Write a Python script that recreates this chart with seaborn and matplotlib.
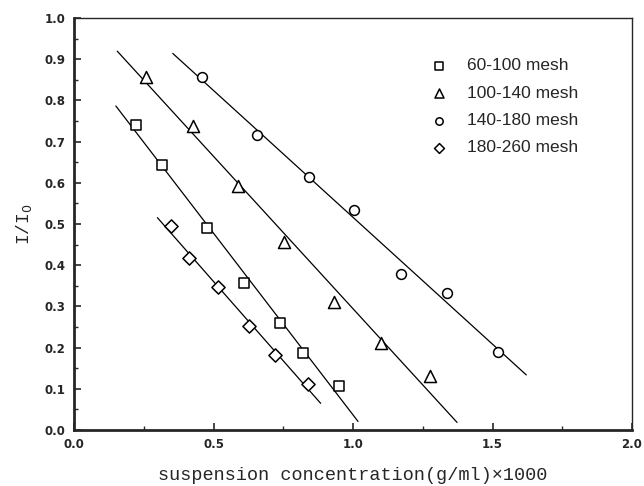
import numpy as np
import pandas as pd
import matplotlib
matplotlib.use('Agg')
import matplotlib.pyplot as plt
import seaborn as sns
from matplotlib.ticker import MultipleLocator

# values
mesh_labels = ['60-100 mesh', '100-140 mesh', '140-180 mesh', '180-260 mesh']
conc_60_100 = [0.222, 0.317, 0.478, 0.609, 0.737, 0.822, 0.950]
ratio_60_100 = [0.740, 0.642, 0.490, 0.358, 0.260, 0.186, 0.108]
conc_100_140 = [0.257, 0.425, 0.587, 0.754, 0.932, 1.100, 1.275]
ratio_100_140 = [0.857, 0.738, 0.593, 0.456, 0.310, 0.212, 0.130]
conc_140_180 = [0.459, 0.656, 0.841, 1.005, 1.172, 1.337, 1.519]
ratio_140_180 = [0.857, 0.715, 0.613, 0.533, 0.379, 0.333, 0.190]
conc_180_260 = [0.349, 0.411, 0.516, 0.628, 0.721, 0.840]
ratio_180_260 = [0.494, 0.418, 0.346, 0.252, 0.183, 0.112]
# x extent of each fitted line
fit_start = [0.150, 0.155, 0.354, 0.299]
fit_end = [1.018, 1.373, 1.621, 0.884]

concs = [conc_60_100, conc_100_140, conc_140_180, conc_180_260]
ratios = [ratio_60_100, ratio_100_140, ratio_140_180, ratio_180_260]

sns.set_style('ticks')
plt.rcParams['font.family'] = ['Liberation Sans', 'DejaVu Sans']
plt.rcParams['xtick.direction'] = 'in'
plt.rcParams['ytick.direction'] = 'in'

fig = plt.figure(figsize=(6.44, 4.86), dpi=100)
ax = fig.add_axes([0.1149, 0.1152, 0.8665, 0.8478])

markers = {'60-100 mesh': 's', '100-140 mesh': '^', '140-180 mesh': 'o', '180-260 mesh': 'D'}
sizes = {'60-100 mesh': 55, '100-140 mesh': 75, '140-180 mesh': 50, '180-260 mesh': 45}

# least squares line for each mesh fraction plus the open markers
for lab, xs, ys, x0, x1 in zip(mesh_labels, concs, ratios, fit_start, fit_end):
    k, b = np.polyfit(xs, ys, 1)
    fx = np.array([x0, x1])
    sns.lineplot(x=fx, y=k * fx + b, color='black', lw=0.9, ax=ax)
    sns.scatterplot(x=xs, y=ys, marker=markers[lab], s=sizes[lab], facecolor='white',
                    edgecolor='black', linewidth=1.1, ax=ax, label=lab, zorder=3)

ax.set_xlim(0, 2.0)
ax.set_ylim(0, 1.0)
ax.xaxis.set_major_locator(MultipleLocator(0.5))
ax.xaxis.set_minor_locator(MultipleLocator(0.25))
ax.yaxis.set_major_locator(MultipleLocator(0.1))
ax.yaxis.set_minor_locator(MultipleLocator(0.05))
ax.tick_params(which='major', length=5, width=1.2, pad=6)
ax.tick_params(which='minor', length=3, width=1.0)
ax.set_xticklabels(['%.1f' % v for v in ax.get_xticks()], fontweight='bold',
                   fontsize=8.5, fontfamily='DejaVu Sans')
ax.set_yticklabels(['%.1f' % v for v in ax.get_yticks()], fontweight='bold',
                   fontsize=8.5, fontfamily='DejaVu Sans')

ax.spines['left'].set_linewidth(2.0)
ax.spines['bottom'].set_linewidth(2.0)
ax.spines['top'].set_linewidth(1.0)
ax.spines['right'].set_linewidth(1.0)

ax.set_xlabel('suspension concentration(g/ml)\u00d71000', fontfamily='Liberation Mono',
              fontsize=13.3, labelpad=11)
ax.set_ylabel(r'I/I$_0$', fontfamily='Liberation Mono', fontsize=13, labelpad=8)

leg = ax.legend(loc='upper left', bbox_to_anchor=(0.608, 0.94), frameon=False,
                fontsize=12.5, markerscale=0.75, handletextpad=1.0, labelspacing=0.7,
                handlelength=1.2)

fig.savefig('out.png', dpi=100)
